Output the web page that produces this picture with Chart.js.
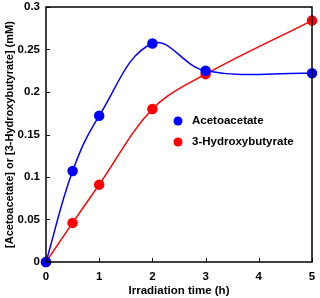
<!DOCTYPE html>
<html>
<head>
<meta charset="utf-8">
<script src="https://cdn.jsdelivr.net/npm/chart.js@4/dist/chart.umd.min.js"></script>
<style>
  html, body { margin: 0; padding: 0; background: #fff; }
  #wrap { width: 320px; height: 298px; }
</style>
</head>
<body>
<div id="wrap"><canvas id="chart"></canvas></div>
<script>
const hours = [0, 0.5, 1, 2, 3, 5];
const acetoacetate = [0, 0.107, 0.172, 0.257, 0.225, 0.222];
const hydroxybutyrate = [0, 0.046, 0.091, 0.180, 0.221, 0.284];
const xTicks = [0, 1, 2, 3, 4, 5];
const yTicks = [0, 0.05, 0.1, 0.15, 0.2, 0.25, 0.3];

const FONT = "'Liberation Sans', Arial, sans-serif";

// frame, inward ticks and the inside legend
const decor = {
  id: 'decor',
  afterDatasetsDraw(chart) {
    const { ctx, chartArea: a, scales: { x, y } } = chart;
    ctx.save();
    ctx.strokeStyle = '#000';
    ctx.lineWidth = 1.5;
    ctx.strokeRect(a.left, a.top, a.right - a.left, a.bottom - a.top);
    ctx.lineWidth = 1;
    ctx.beginPath();
    xTicks.forEach(v => {
      const px = Math.round(x.getPixelForValue(v)) + 0.5;
      ctx.moveTo(px, a.bottom); ctx.lineTo(px, a.bottom - 4);
    });
    yTicks.forEach(v => {
      const py = Math.round(y.getPixelForValue(v)) + 0.5;
      ctx.moveTo(a.left, py); ctx.lineTo(a.left + 4, py);
    });
    ctx.stroke();

    // legend
    ctx.font = 'bold 11.5px ' + FONT;
    ctx.textBaseline = 'middle';
    chart.data.datasets.forEach((ds, i) => {
      const lx = a.left + 132, ly = a.top + 114 + i * 21;
      ctx.fillStyle = ds.borderColor;
      ctx.beginPath();
      ctx.arc(lx, ly, 4.5, 0, Math.PI * 2);
      ctx.fill();
      ctx.fillStyle = '#000';
      ctx.fillText(ds.label, lx + 14, ly);
    });
    ctx.restore();
  }
};

new Chart(document.getElementById('chart'), {
  type: 'line',
  data: {
    datasets: [
      {
        label: 'Acetoacetate',
        data: hours.map((h, i) => ({ x: h, y: acetoacetate[i] })),
        borderColor: '#0000ff',
        backgroundColor: '#0000ff',
        borderWidth: 1.5,
        pointRadius: 4.5,
        tension: 0.4
      },
      {
        label: '3-Hydroxybutyrate',
        data: hours.map((h, i) => ({ x: h, y: hydroxybutyrate[i] })),
        borderColor: '#ff0000',
        backgroundColor: '#ff0000',
        borderWidth: 1.5,
        pointRadius: 4.5,
        tension: 0.35
      }
    ]
  },
  options: {
    responsive: true,
    maintainAspectRatio: false,
    animation: false,
    clip: false,
    layout: { padding: { top: 7, right: 8, left: 3, bottom: 0 } },
    plugins: { legend: { display: false }, tooltip: { enabled: false } },
    scales: {
      x: {
        type: 'linear',
        min: 0, max: 5,
        afterBuildTicks: s => { s.ticks = xTicks.map(v => ({ value: v })); },
        afterFit: s => { s.height = 36; s.paddingLeft = 0; s.paddingRight = 0; },
        grid: { display: false, drawTicks: false },
        border: { display: false },
        ticks: { color: '#000', font: { family: FONT, size: 11.5, weight: 'bold' }, padding: 8 },
        title: { display: true, text: 'Irradiation time (h)', color: '#000', font: { family: FONT, size: 11.5, weight: 'bold' }, padding: { top: 0, bottom: 0 } }
      },
      y: {
        min: 0, max: 0.3,
        afterBuildTicks: s => { s.ticks = yTicks.map(v => ({ value: v })); },
        afterFit: s => { s.width = 43; s.paddingTop = 0; s.paddingBottom = 0; },
        grid: { display: false, drawTicks: false },
        border: { display: false },
        ticks: { color: '#000', font: { family: FONT, size: 11.5, weight: 'bold' }, padding: 6, callback: v => String(v) },
        title: { display: true, text: '[Acetoacetate] or [3-Hydroxybutyrate] (mM)', color: '#000', font: { family: FONT, size: 11, weight: 'bold' }, padding: { top: 0, bottom: 1 } }
      }
    }
  },
  plugins: [decor]
});
</script>
</body>
</html>
